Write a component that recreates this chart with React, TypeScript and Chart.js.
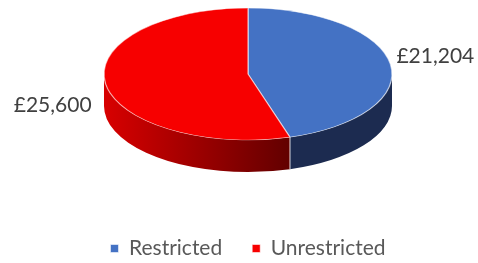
import React, { useEffect, useRef } from "react";
import { Chart, registerables } from "chart.js";

Chart.register(...registerables);

const categories = ["Restricted", "Unrestricted"];
const values = [21204, 25600];
const valueLabels = ["£21,204", "£25,600"];
const topColors = ["#4472c4", "#f70000"];

// layout of the tilted pie (pixels)
const PIE = { cx: 248, cy: 74, rx: 144, ry: 66, depth: 32 };

const pie3d = {
  id: "pie3d",
  beforeDatasetsDraw(chart: any) {
    const ctx = chart.ctx as CanvasRenderingContext2D;
    const meta = chart.getDatasetMeta(0);
    const arcs = meta.data as any[];
    if (!arcs.length) return;
    const { cx, cy, rx, ry, depth } = PIE;
    // side walls
    arcs.forEach((arc, i) => {
      const a0 = Math.max(arc.startAngle, 0);
      const a1 = Math.min(arc.endAngle, Math.PI);
      if (a1 <= a0) return;
      ctx.save();
      ctx.beginPath();
      ctx.ellipse(cx, cy, rx, ry, 0, a0, a1, false);
      ctx.ellipse(cx, cy + depth, rx, ry, 0, a1, a0, true);
      ctx.closePath();
      if (i === 1) {
        const xl = cx + rx * Math.cos(a1);
        const xr = cx + rx * Math.cos(a0);
        const g = ctx.createLinearGradient(Math.min(xl, xr), 0, Math.max(xl, xr), 0);
        g.addColorStop(0, "#d80000");
        g.addColorStop(1, "#620000");
        ctx.fillStyle = g;
      } else {
        ctx.fillStyle = "#1c2b50";
      }
      ctx.fill();
      ctx.restore();
      // seam lines
      [arc.startAngle, arc.endAngle].forEach((a: number) => {
        if (a > 0 && a < Math.PI) {
          const x = cx + rx * Math.cos(a);
          const y = cy + ry * Math.sin(a);
          ctx.save();
          ctx.strokeStyle = "rgba(255,255,255,0.6)";
          ctx.lineWidth = 1;
          ctx.beginPath();
          ctx.moveTo(x, y);
          ctx.lineTo(x, y + depth);
          ctx.stroke();
          ctx.restore();
        }
      });
    });
    const a = arcs[0];
    const r = a.outerRadius;
    ctx.save();
    ctx.translate(cx, cy);
    ctx.scale(rx / r, ry / r);
    ctx.translate(-a.x, -a.y);
  },
  afterDatasetsDraw(chart: any) {
    const ctx = chart.ctx as CanvasRenderingContext2D;
    ctx.restore();
    const meta = chart.getDatasetMeta(0);
    const { cx, cy, rx, ry } = PIE;
    ctx.save();
    ctx.font = "21px Lato";
    ctx.fillStyle = "#404040";
    ctx.textBaseline = "middle";
    (meta.data as any[]).forEach((arc, i) => {
      const m = (arc.startAngle + arc.endAngle) / 2;
      const px = cx + rx * Math.cos(m);
      const py = cy + ry * Math.sin(m);
      if (Math.cos(m) >= 0) {
        ctx.textAlign = "left";
        ctx.fillText(valueLabels[i], px + 6, py - 8);
      } else {
        ctx.textAlign = "right";
        ctx.fillText(valueLabels[i], px - 14, py + 22);
      }
    });
    ctx.restore();
  },
};

export default function App() {
  const ref = useRef<HTMLCanvasElement>(null);
  useEffect(() => {
    if (!ref.current) return;
    Chart.defaults.font.family = "Lato";
    const chart = new Chart(ref.current, {
      type: "pie",
      data: {
        labels: categories,
        datasets: [
          {
            data: values,
            backgroundColor: topColors,
            borderColor: "rgba(255,255,255,0.55)",
            borderWidth: 1,
            clip: false as any,
          },
        ],
      },
      options: {
        responsive: false,
        animation: false,
        devicePixelRatio: 1,
        layout: { padding: { left: 18, bottom: -6 } },
        plugins: {
          tooltip: { enabled: false },
          legend: {
            position: "bottom",
            labels: {
              boxWidth: 8,
              boxHeight: 8,
              padding: 30,
              color: "#595959",
              font: { size: 21, family: "Lato" },
            },
          },
        },
      },
      plugins: [pie3d],
    });
    return () => chart.destroy();
  }, []);
  return (
    <div style={{ position: "absolute", left: 0, top: 0, width: 478, height: 263, background: "#fff" }}>
      <canvas ref={ref} width={478} height={263} />
    </div>
  );
}
